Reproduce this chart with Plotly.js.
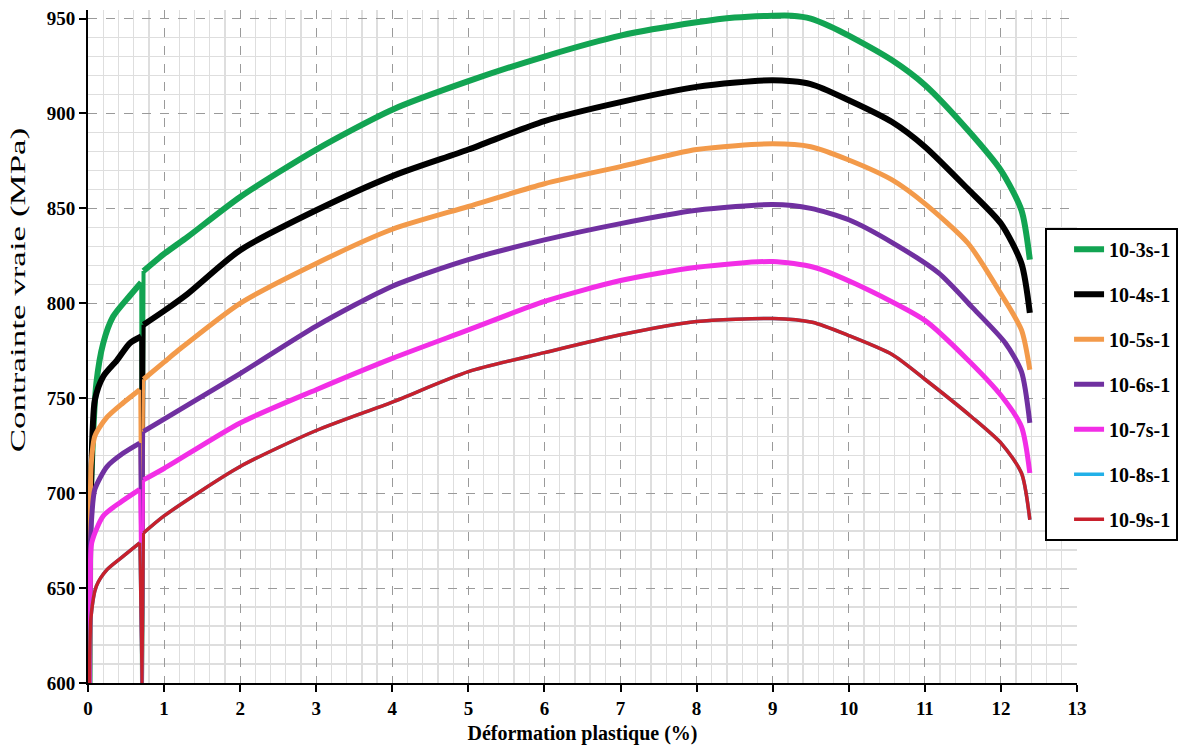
<!DOCTYPE html>
<html>
<head>
<meta charset="utf-8">
<script src="https://cdn.plot.ly/plotly-3.0.1.min.js"></script>
<style>html,body{margin:0;padding:0;background:#fff;}#chart{width:1200px;height:747px;}</style>
</head>
<body>
<div id="chart"></div>
<script>
// Series names (legend)
var seriesNames = ["10-3s-1", "10-4s-1", "10-5s-1", "10-6s-1", "10-7s-1", "10-8s-1", "10-9s-1"];

// 10-3 s-1
var strain3 = [0.02, 0.03, 0.05, 0.11, 0.2, 0.33, 0.55, 0.70, 0.71, 0.73, 1.0, 1.31, 2.0, 3.0, 4.0, 5.0, 6.0, 7.0, 8.0, 8.5, 9.0, 9.25, 9.5, 9.75, 10.0, 10.57, 11.0, 11.57, 12.0, 12.27, 12.38];
var stress3 = [600, 680, 714, 758, 779, 793, 804, 811, 598, 817, 826, 835, 856, 881, 902, 917, 930, 941, 948, 950.5, 951.5, 951.5, 950, 946, 941, 928, 915, 891, 870, 849, 823];

// 10-4 s-1
var strain4 = [0.01, 0.02, 0.04, 0.09, 0.2, 0.38, 0.55, 0.70, 0.71, 0.73, 1.0, 1.31, 2.0, 3.0, 4.0, 5.0, 6.0, 7.0, 8.0, 9.0, 9.5, 10.0, 10.57, 11.0, 11.57, 12.0, 12.27, 12.38];
var stress4 = [600, 670, 705, 749, 761.5, 770, 779, 782.5, 598, 788.7, 796, 805, 828, 849, 867, 881, 896, 906, 914, 917.5, 915.5, 907, 895.5, 882.5, 860, 842, 821, 795];

// 10-5 s-1
var strain5 = [0.02, 0.03, 0.04, 0.09, 0.25, 0.46, 0.68, 0.71, 0.73, 1.0, 1.18, 2.0, 3.0, 4.0, 5.0, 6.0, 7.0, 8.0, 9.0, 9.5, 10.0, 10.57, 11.0, 11.57, 12.0, 12.27, 12.38];
var stress5 = [600, 680, 714, 730, 740, 747.5, 754.5, 598, 760, 769, 775, 800, 821, 839, 851, 863, 872, 881, 884, 882.5, 875.5, 865, 852.5, 831.5, 805, 786, 765];

// 10-6 s-1
var strain6 = [0.02, 0.03, 0.05, 0.09, 0.25, 0.46, 0.68, 0.71, 0.73, 1.0, 2.0, 3.0, 4.0, 5.0, 6.0, 7.0, 8.0, 9.0, 9.5, 10.0, 10.57, 11.18, 11.62, 12.06, 12.27, 12.38];
var stress6 = [600, 670, 688, 702, 714, 721, 726.4, 598, 732.5, 739, 763, 788, 809, 823, 833.4, 842, 849, 852, 850, 844, 832, 816, 798, 779, 764, 737];

// 10-7 s-1
var strain7 = [0.02, 0.03, 0.05, 0.2, 0.42, 0.68, 0.71, 0.73, 1.0, 2.0, 3.0, 4.0, 5.0, 6.0, 7.0, 8.0, 9.0, 9.54, 10.1, 11.0, 11.57, 12.01, 12.27, 12.38];
var stress7 = [600, 653, 674, 688, 695, 702, 598, 707, 713, 737, 754.5, 771, 786, 801, 812, 819, 822, 819, 810, 791, 770, 751, 735, 710.6];

// 10-8 s-1 (drawn under 10-9, same readings)
var strain8 = [0.02, 0.04, 0.11, 0.25, 0.46, 0.68, 0.71, 0.73, 1.0, 2.0, 3.0, 4.0, 5.0, 6.0, 7.0, 8.0, 9.0, 9.52, 10.0, 10.57, 11.0, 11.62, 12.01, 12.27, 12.38];
var stress8 = [600, 635, 651, 659.7, 666.7, 673.8, 598, 679, 688, 714, 733, 748, 764, 774, 783.4, 790.4, 792, 790, 783, 773, 760, 740, 726, 710.6, 686];

// 10-9 s-1
var strain9 = [0.02, 0.04, 0.11, 0.25, 0.46, 0.68, 0.71, 0.73, 1.0, 2.0, 3.0, 4.0, 5.0, 6.0, 7.0, 8.0, 9.0, 9.52, 10.0, 10.57, 11.0, 11.62, 12.01, 12.27, 12.38];
var stress9 = [600, 635, 651, 659.7, 666.7, 673.8, 598, 679, 688, 714, 733, 748, 764, 774, 783.4, 790.4, 792, 790, 783, 773, 760, 740, 726, 710.6, 686];

var xTickVals = [0,1,2,3,4,5,6,7,8,9,10,11,12,13];
var yTickVals = [600,650,700,750,800,850,900,950];

var colors = ["#12a452", "#000000", "#f39a4a", "#7030a0", "#f22ee6", "#22b0e8", "#c8202c"];
var widths = [6, 6, 5, 5, 5, 3.5, 3.5];
var xs = [strain3, strain4, strain5, strain6, strain7, strain8, strain9];
var ys = [stress3, stress4, stress5, stress6, stress7, stress8, stress9];

// minor grid positions (skip the major ones)
var xMinor = [], yMinor = [];
for (var i = 1; i < 65; i++) { if (i % 5 !== 0) xMinor.push(+(i * 0.2).toFixed(1)); }
for (var j = 601; j < 955; j++) { if (j % 10 === 0 && j % 50 !== 0) yMinor.push(j); }

var traces = [];
seriesNames.forEach(function(n, i){
  var X = xs[i], Y = ys[i];
  var k = Y.indexOf(598); // the unloading/reloading point
  var common = {type: 'scatter', mode: 'lines', legendgroup: 'g' + i, name: n};
  traces.push(Object.assign({}, common, {
    x: X.slice(0, k), y: Y.slice(0, k), showlegend: false,
    line: {color: colors[i], width: widths[i], shape: 'spline', smoothing: 0.7}
  }));
  traces.push(Object.assign({}, common, {
    x: X.slice(k - 1, k + 2), y: Y.slice(k - 1, k + 2), showlegend: false,
    line: {color: colors[i], width: Math.max(3, widths[i] - 2), shape: 'linear'}
  }));
  traces.push(Object.assign({}, common, {
    x: X.slice(k + 1), y: Y.slice(k + 1), showlegend: true,
    line: {color: colors[i], width: widths[i], shape: 'spline', smoothing: 0.7}
  }));
});

var serif = '"Liberation Serif", "Times New Roman", serif';

var layout = {
  width: 1200, height: 747,
  margin: {l: 88, r: 123, t: 10, b: 64},
  paper_bgcolor: '#ffffff', plot_bgcolor: '#ffffff',
  font: {family: serif, color: '#000'},
  showlegend: true,
  legend: {
    x: 0.9677, y: 0.6763, xanchor: 'left', yanchor: 'top',
    bgcolor: '#ffffff', bordercolor: '#000000', borderwidth: 2,
    font: {family: serif, size: 20, color: '#000', weight: 'bold'},
    tracegroupgap: 16, indentation: 22
  },
  xaxis: {
    range: [0, 13], tickvals: xTickVals, ticktext: xTickVals.map(String),
    showline: true, linecolor: '#000', linewidth: 2,
    ticks: 'outside', ticklen: 7, tickwidth: 2, tickcolor: '#000',
    tickfont: {family: serif, size: 19, color: '#000', weight: 'bold'},
    showgrid: true, gridcolor: '#9a9a9a', gridwidth: 1, griddash: 'dash',
    zeroline: false,
    minor: {tickmode: 'array', tickvals: xMinor, showgrid: true, gridcolor: '#dedede', gridwidth: 1.3, griddash: 'solid', ticks: ''},
    title: {text: 'Déformation plastique (%)', font: {family: serif, size: 20, color: '#000', weight: 'bold'}, standoff: 8}
  },
  yaxis: {
    range: [600, 954.5], tickvals: yTickVals, ticktext: yTickVals.map(String),
    showline: true, linecolor: '#000', linewidth: 2,
    ticks: 'outside', ticklen: 7, tickwidth: 2, tickcolor: '#000',
    tickfont: {family: serif, size: 19, color: '#000', weight: 'bold'},
    showgrid: true, gridcolor: '#9a9a9a', gridwidth: 1, griddash: 'dash',
    zeroline: false,
    minor: {tickmode: 'array', tickvals: yMinor, showgrid: true, gridcolor: '#dedede', gridwidth: 1.3, griddash: 'solid', ticks: ''},
    title: {text: 'Contrainte vraie (MPa)', font: {family: serif, size: 20, color: '#000'}, standoff: 6}
  }
};

Plotly.newPlot('chart', traces, layout, {staticPlot: true, displayModeBar: false}).then(function(){
  // stretch the y title along its length and place it like the original
  var t = document.querySelector('.ytitle');
  if (t) {
    var cx = parseFloat(t.getAttribute('x'));
    var cy = parseFloat(t.getAttribute('y'));
    var dx = 25 - cx, dy = 290 - cy;
    t.setAttribute('transform',
      'translate(' + dx + ',' + dy + ') rotate(-90,' + cx + ',' + cy + ') translate(' + cx + ',' + cy + ') scale(1.75,1) translate(' + (-cx) + ',' + (-cy) + ')');
  }
});
</script>
</body>
</html>
